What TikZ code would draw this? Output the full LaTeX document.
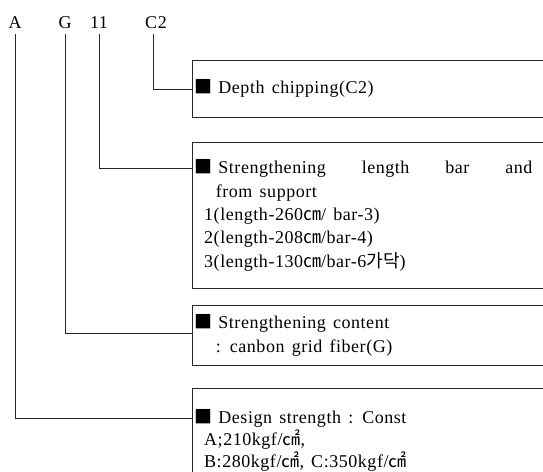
\documentclass[tikz,border=0pt]{standalone}
\usepackage{fontspec}
\setmainfont{Liberation Serif}[LetterSpace=3]
\newfontfamily\kr{Noto Sans CJK KR}
\usetikzlibrary{positioning,calc}
\newcommand{\sq}{\hspace*{-8pt}{\kr ■}\hspace{6pt}}
\newcommand{\cm}{{\kr ㎝}}
\newcommand{\cmsq}{{\kr ㎠}}
\newcommand{\wordgap}{\spaceskip=0.4em plus 0.2em\relax}
\tikzset{
  code/.style={font=\fontsize{18}{20}\selectfont,inner sep=0pt,anchor=base},
  spec/.style={draw=black!85,line width=0.8pt,anchor=north west,minimum width=420pt,
    text width=400pt,align=left,inner xsep=4pt,inner ysep=0pt,
    font=\fontsize{18}{23.3}\selectfont,execute at begin node=\wordgap},
  lead/.style={draw=black!85,line width=0.8pt},
}
\begin{document}
\begin{tikzpicture}[x=1pt,y=-1pt]
  \useasboundingbox (0,0) rectangle (543,471);
  \clip (0,0) rectangle (543,471);
  % code letters
  \node[code] (ka) at (15,28){A};
  \node[code] (kg) at (65,28){G};
  \node[code] (kn) at (99,28){11};
  \node[code] (kc) at (156,28){C2};
  % spec boxes, open to the right
  \node[spec,minimum height=57pt] (b1) at (192,60){\sq Depth chipping(C2)};
  \node[spec,minimum height=146pt] (b2) at (192,142){%
    \sq\makebox[314pt][s]{Strengthening length bar and}\\
    \hspace*{0.75em}from support\\
    \hspace*{0.1em}1(length-260\cm/ bar-3)\\
    \hspace*{0.1em}2(length-208\cm/bar-4)\\
    \hspace*{0.1em}3(length-130\cm/bar-6{\kr 가닥})};
  \node[spec,minimum height=60pt] (b3) at (192,305){%
    \sq Strengthening content\\
    \hspace*{0.75em}: canbon grid fiber(G)};
  \node[spec,minimum height=104pt,font=\fontsize{18}{22}\selectfont] (b4) at (192,388){%
    \sq Design strength : Const\\
    \hspace*{0.1em}A;210kgf/\cmsq,\\
    \hspace*{0.1em}B:280kgf/\cmsq, C:350kgf/\cmsq};
  % leaders
  \draw[lead] ([xshift=-3pt,yshift=-6pt]kc.south) |- (b1.west);
  \draw[lead] ([yshift=-6pt]kn.south) |- ([yshift=-26pt]b2.north west);
  \draw[lead] ([yshift=-6pt]kg.south) |- ([yshift=-28pt]b3.north west);
  \draw[lead] ([yshift=-6pt]ka.south) |- ([yshift=-30pt]b4.north west);
\end{tikzpicture}
\end{document}
